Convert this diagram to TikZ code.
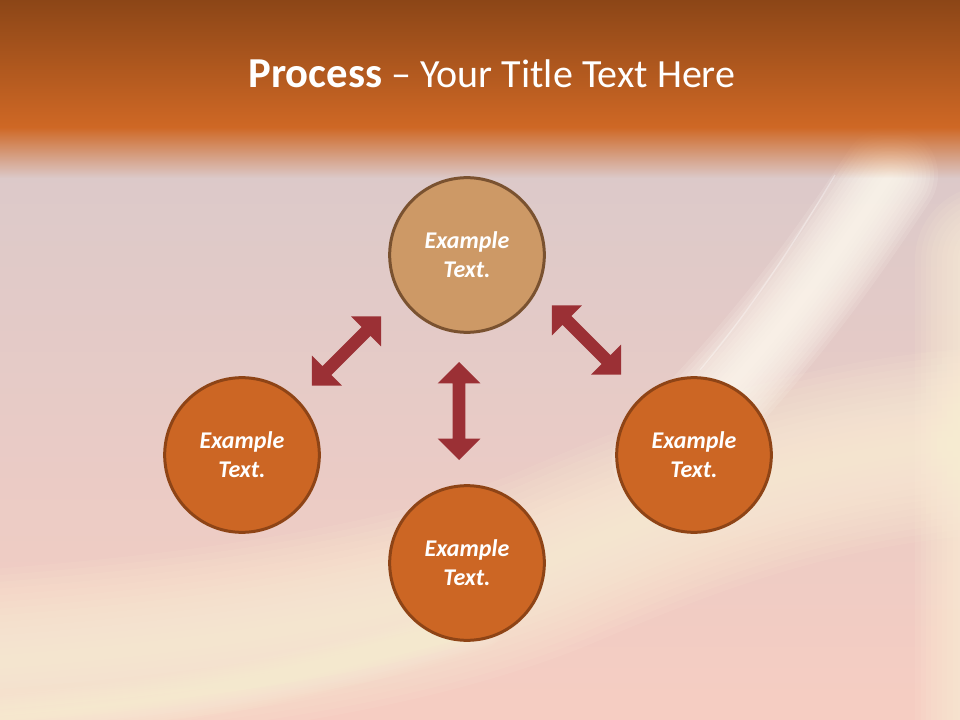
\documentclass[tikz,border=0pt]{standalone}
\usepackage{fontspec}
\setmainfont{Carlito}
\usetikzlibrary{shapes.arrows, fadings}

\definecolor{hdrdark}{HTML}{8C4617}
\definecolor{hdrorange}{HTML}{CF6825}
\definecolor{bglav}{HTML}{DAC9CA}
\definecolor{bgpink}{HTML}{E4CDC7}
\definecolor{bgpeach}{HTML}{F6CDC2}
\definecolor{glowcream}{HTML}{FFF4DA}
\definecolor{beamwhite}{HTML}{FFFAF0}
\definecolor{tanfill}{HTML}{CD9966}
\definecolor{tanline}{HTML}{7A5230}
\definecolor{orangefill}{HTML}{CC6624}
\definecolor{orangeline}{HTML}{8E4416}
\definecolor{arrowred}{HTML}{9B3035}

\tikzfading[name=fadedown, top color=transparent!0, bottom color=transparent!100]

\begin{document}
\begin{tikzpicture}[x=0.75pt, y=-0.75pt]

  % Define node styles
  \tikzset{
    stage circle/.style={
      circle, minimum size=116pt, line width=2.25pt,
      draw=orangeline, fill=orangefill, text=white, align=center,
      font=\fontsize{18}{21.6}\selectfont\bfseries\itshape,
    },
    top stage/.style={draw=tanline, fill=tanfill},
    link arrow/.style={
      double arrow, fill=arrowred, minimum height=73.5pt, inner sep=4.5pt,
      double arrow head extend=11.25pt, double arrow tip angle=90,
    },
    title text/.style={text=white, font=\fontsize{30}{36}\selectfont},
  }

  \useasboundingbox (0,0) rectangle (960,720);

  % Background
  \fill[bgpink] (0,0) rectangle (960,720);
  \shade[top color=bglav, bottom color=bgpeach] (0,130) rectangle (960,720);
  \foreach \i in {1,...,14} {
    % cream sweep and right edge glow
    \draw[glowcream, line width=\i*10pt, opacity=0.09, line cap=round]
      (1000,440) .. controls (820,450) and (690,500) .. (550,560)
      .. controls (400,620) and (200,648) .. (-40,665);
    \draw[glowcream, line width=\i*8pt, opacity=0.1, line cap=round]
      (990,260) -- (990,760);
  }
  \foreach \i in {1,...,12} {
    % light beam
    \draw[beamwhite, line width=\i*6pt, opacity=0.14, line cap=round]
      (890,175) .. controls (830,265) and (770,350) .. (660,460);
    \draw[glowcream, line width=\i*3pt, opacity=0.08, line cap=round]
      (-40,722) .. controls (150,708) and (300,682) .. (480,625);
  }
  \draw[white, line width=1pt, opacity=0.35] (835,175) .. controls (790,250) and (750,310) .. (700,370);

  % Title band
  \shade[top color=hdrdark, bottom color=hdrorange] (0,0) rectangle (960,128);
  \fill[hdrorange, path fading=fadedown] (0,127) rectangle (960,178);
  \node[title text, anchor=base] (title) at (492,88) {{\fontsize{32}{38}\selectfont\bfseries Process} – Your Title Text Here};

  % Process circles
  \node[stage circle, top stage] (ctop) at (467,255) {Example\\Text.};
  \node[stage circle] (cleft) at (242,455) {Example\\Text.};
  \node[stage circle] (cbottom) at (467,563) {Example\\Text.};
  \node[stage circle] (cright) at (694,455) {Example\\Text.};

  % Double arrows
  \node[link arrow, rotate=45] (aleft) at (346.5,351) {};
  \node[link arrow, rotate=90] (amid) at (459,411) {};
  \node[link arrow, rotate=-45] (aright) at (586.5,340) {};

\end{tikzpicture}
\end{document}
